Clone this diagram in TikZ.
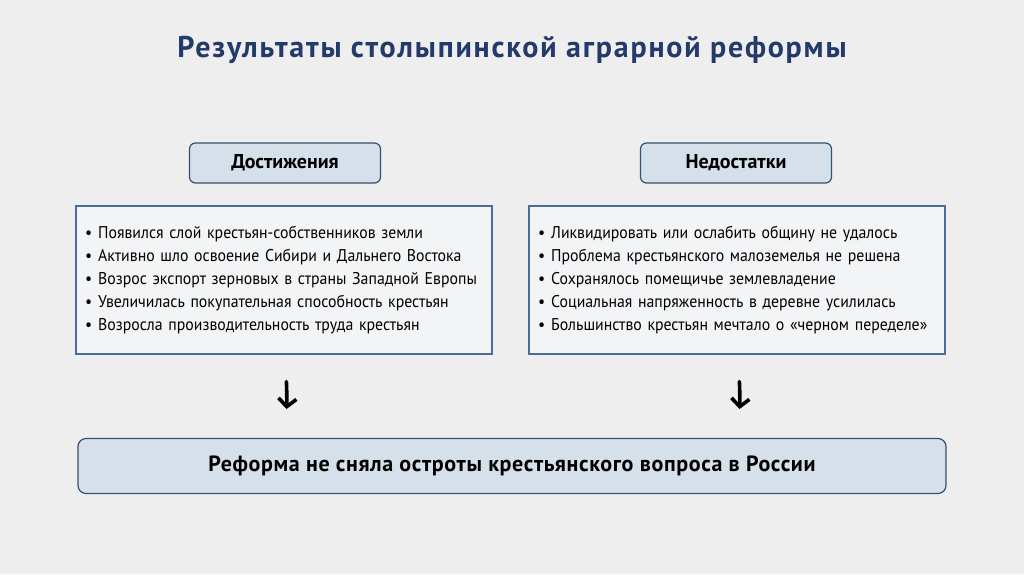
\documentclass[tikz,border=0pt]{standalone}
\usepackage{fontspec}
\setmainfont{PT Sans}
\usepackage{tikz}
\usetikzlibrary{positioning}
\usetikzlibrary{arrows.meta}
\usepackage{xcolor}

\definecolor{pagebg}{HTML}{EEEEEE}
\definecolor{titleblue}{HTML}{243A6B}
\definecolor{hdrfill}{HTML}{D6E0EA}
\definecolor{hdrline}{HTML}{34506F}
\definecolor{listfill}{HTML}{F3F4F6}
\definecolor{listline}{HTML}{4C6C9C}

\tikzset{
    hdr/.style={draw=hdrline, line width=1.2pt, fill=hdrfill, rounded corners=6pt,
        minimum width=191pt, minimum height=40pt, font=\fontsize{20}{22}\selectfont\bfseries},
    listbox/.style={draw=listline, line width=1.2pt, fill=listfill,
        minimum width=416pt, minimum height=148pt, inner xsep=9pt,
        text width=398pt, align=left,
        font=\fontsize{17}{23}\selectfont\addfontfeatures{FakeStretch=0.93}},
    resbox/.style={draw=hdrline, line width=1.2pt, fill=hdrfill, rounded corners=8pt,
        minimum width=868pt, minimum height=55pt,
        font=\fontsize{22}{24}\selectfont\bfseries\addfontfeatures{LetterSpace=3}},
    arr/.style={line width=3.6pt, line cap=round, -{Straight Barb[length=8pt,width=18pt,line width=3.6pt]},
        shorten <=27pt, shorten >=29pt}
}

\begin{document}
\begin{tikzpicture}[x=1pt, y=-1pt]
    % Page
    \fill[pagebg] (0,0) rectangle (1024,574);
    \useasboundingbox (0,0) rectangle (1024,574);

    % Title
    \node[text=titleblue, font=\fontsize{30}{33}\selectfont\bfseries\addfontfeatures{LetterSpace=6}] (title) at (512,50)
        {Результаты столыпинской аграрной реформы};

    % Headers
    \node[hdr] (plus) at (285,163) {Достижения};
    \node[hdr] (minus) at (736,163) {Недостатки};

    % Lists
    \node[listbox] (lista) at (284,280) {%
        •\hspace{6pt}Появился слой крестьян-собственников земли\\
        •\hspace{6pt}Активно шло освоение Сибири и Дальнего Востока\\
        •\hspace{6pt}Возрос экспорт зерновых в страны Западной Европы\\
        •\hspace{6pt}Увеличилась покупательная способность крестьян\\
        •\hspace{6pt}Возросла производительность труда крестьян};
    \node[listbox] (listb) at (737,280) {%
        •\hspace{6pt}Ликвидировать или ослабить общину не удалось\\
        •\hspace{6pt}Проблема крестьянского малоземелья не решена\\
        •\hspace{6pt}Сохранялось помещичье землевладение\\
        •\hspace{6pt}Социальная напряженность в деревне усилилась\\
        •\hspace{6pt}Большинство крестьян мечтало о «черном переделе»};

    % Result
    \node[resbox] (res) at (512,466) {Реформа не сняла остроты крестьянского вопроса в России};

    % Arrows
    \draw[arr] (lista.south) to[bend left=5] (res.north -| lista.south);
    \draw[arr] (listb.south) to[bend left=5] (res.north -| listb.south);
\end{tikzpicture}
\end{document}
